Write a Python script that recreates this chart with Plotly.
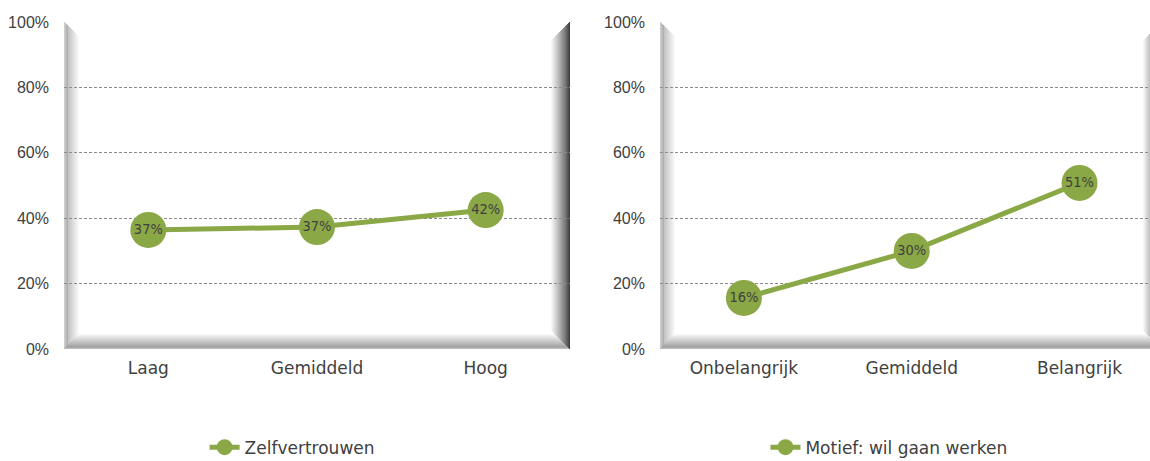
import plotly.graph_objects as go

# data
left_categories = ["Laag", "Gemiddeld", "Hoog"]
left_values = [0.364, 0.373, 0.425]
left_labels = ["37%", "37%", "42%"]
left_name = "Zelfvertrouwen"

right_categories = ["Onbelangrijk", "Gemiddeld", "Belangrijk"]
right_values = [0.156, 0.300, 0.508]
right_labels = ["16%", "30%", "51%"]
right_name = "Motief: wil gaan werken"

y_ticks = [0, 0.2, 0.4, 0.6, 0.8, 1.0]
y_ticktext = ["0%", "20%", "40%", "60%", "80%", "100%"]

GREEN = "#8BA846"
TEXT = "#404040"
W, H = 1150, 461

# plot areas in pixels (left, right, top, bottom)
PLOTS = [(64, 570), (660, 1150)]
TOP, BOTTOM = 22, 349

fig = go.Figure()

for i, (cats, vals, labels, name) in enumerate(
    [
        (left_categories, left_values, left_labels, left_name),
        (right_categories, right_values, right_labels, right_name),
    ]
):
    sfx = "" if i == 0 else "2"
    fig.add_trace(
        go.Scatter(
            x=cats,
            y=vals,
            mode="lines+markers+text",
            text=labels,
            textposition="middle center",
            textfont={"family": "DejaVu Sans Condensed, Liberation Sans Narrow, sans-serif", "size": 14.5, "color": TEXT},
            line={"color": GREEN, "width": 5},
            marker={"size": 36, "color": GREEN},
            name=name,
            xaxis="x" + sfx,
            yaxis="y" + sfx,
            legend="legend" + sfx,
            showlegend=True,
            cliponaxis=False,
        )
    )

axis_common = {
    "showline": False,
    "zeroline": False,
    "ticks": "",
    "automargin": False,
}
xfont = {"family": "DejaVu Sans", "size": 17, "color": TEXT}
yfont = {"family": "Liberation Sans", "size": 16, "color": TEXT}
grid = {
    "showgrid": True,
    "gridcolor": "#8c8c8c",
    "griddash": "3px,2px",
    "gridwidth": 1,
}

x0, x1 = PLOTS[0]
fig.update_layout(
    xaxis={
        **axis_common,
        "domain": [x0 / W, x1 / W],
        "range": [-0.5, 2.5],
        "showgrid": False,
        "tickfont": xfont,
        "ticklabelstandoff": 7,
    },
    yaxis={
        **axis_common,
        **grid,
        "domain": [(H - BOTTOM) / H, (H - TOP) / H],
        "range": [0, 1],
        "tickvals": y_ticks,
        "ticktext": y_ticktext,
        "tickfont": yfont,
        "ticklabelstandoff": 14,
    },
)

x0, x1 = PLOTS[1]
fig.update_layout(
    xaxis2={
        **axis_common,
        "domain": [x0 / W, x1 / W],
        "range": [-0.5, 2.42],
        "anchor": "y2",
        "showgrid": False,
        "tickfont": xfont,
        "ticklabelstandoff": 7,
    },
    yaxis2={
        **axis_common,
        **grid,
        "domain": [(H - BOTTOM) / H, (H - TOP) / H],
        "range": [0, 1],
        "anchor": "x2",
        "tickvals": y_ticks,
        "ticktext": y_ticktext,
        "tickfont": yfont,
        "ticklabelstandoff": 14,
    },
)


def gray(v):
    return f"rgb({v},{v},{v})"


# bevelled frame approximated with thin strips
shapes = []
for i, (px0, px1) in enumerate(PLOTS):
    sfx = "" if i == 0 else "2"
    frame_right = px1 if i == 0 else 1162
    pw = px1 - px0
    ph = BOTTOM - TOP
    # left bevel
    for k in range(16):
        t = k / 15
        v = int(175 + 80 * t) if k > 3 else int(205 - 10 * k)
        shapes.append(dict(type="rect", xref=f"x{sfx} domain", yref=f"y{sfx} domain",
                           x0=k / pw, x1=(k + 1) / pw, y0=0, y1=1 - k / ph,
                           fillcolor=gray(v), line_width=0, layer="below"))
    # bottom bevel
    for k in range(16):
        t = k / 15
        v = int(150 + 105 * t) if k > 2 else int(185 - 12 * k)
        shapes.append(dict(type="rect", xref=f"x{sfx} domain", yref=f"y{sfx} domain",
                           x0=k / pw, x1=(frame_right - px0 - k) / pw,
                           y0=k / ph, y1=(k + 1) / ph,
                           fillcolor=gray(v), line_width=0, layer="below"))
    # right bevel
    for k in range(20):
        t = k / 19
        v = int(60 + 195 * t ** 0.8)
        xr = frame_right - px0 - k
        shapes.append(dict(type="rect", xref=f"x{sfx} domain", yref=f"y{sfx} domain",
                           x0=(xr - 1) / pw, x1=xr / pw, y0=k / ph, y1=1 - k / ph,
                           fillcolor=gray(v), line_width=0, layer="below"))

legend_common = {
    "orientation": "h",
    "xanchor": "center",
    "y": -0.01,
    "yanchor": "bottom",
    "font": {"family": "DejaVu Sans", "size": 17, "color": TEXT},
    "bgcolor": "rgba(0,0,0,0)",
}

fig.update_layout(
    width=W,
    height=H,
    margin={"l": 0, "r": 0, "t": 0, "b": 0, "autoexpand": False},
    paper_bgcolor="white",
    plot_bgcolor="white",
    showlegend=True,
    shapes=shapes,
    legend={**legend_common, "x": 0.254},
    legend2={**legend_common, "x": 0.773},
)

fig.write_html(
    "out.html",
    config={"displayModeBar": False},
    post_script="document.body.style.margin='0';",
)
